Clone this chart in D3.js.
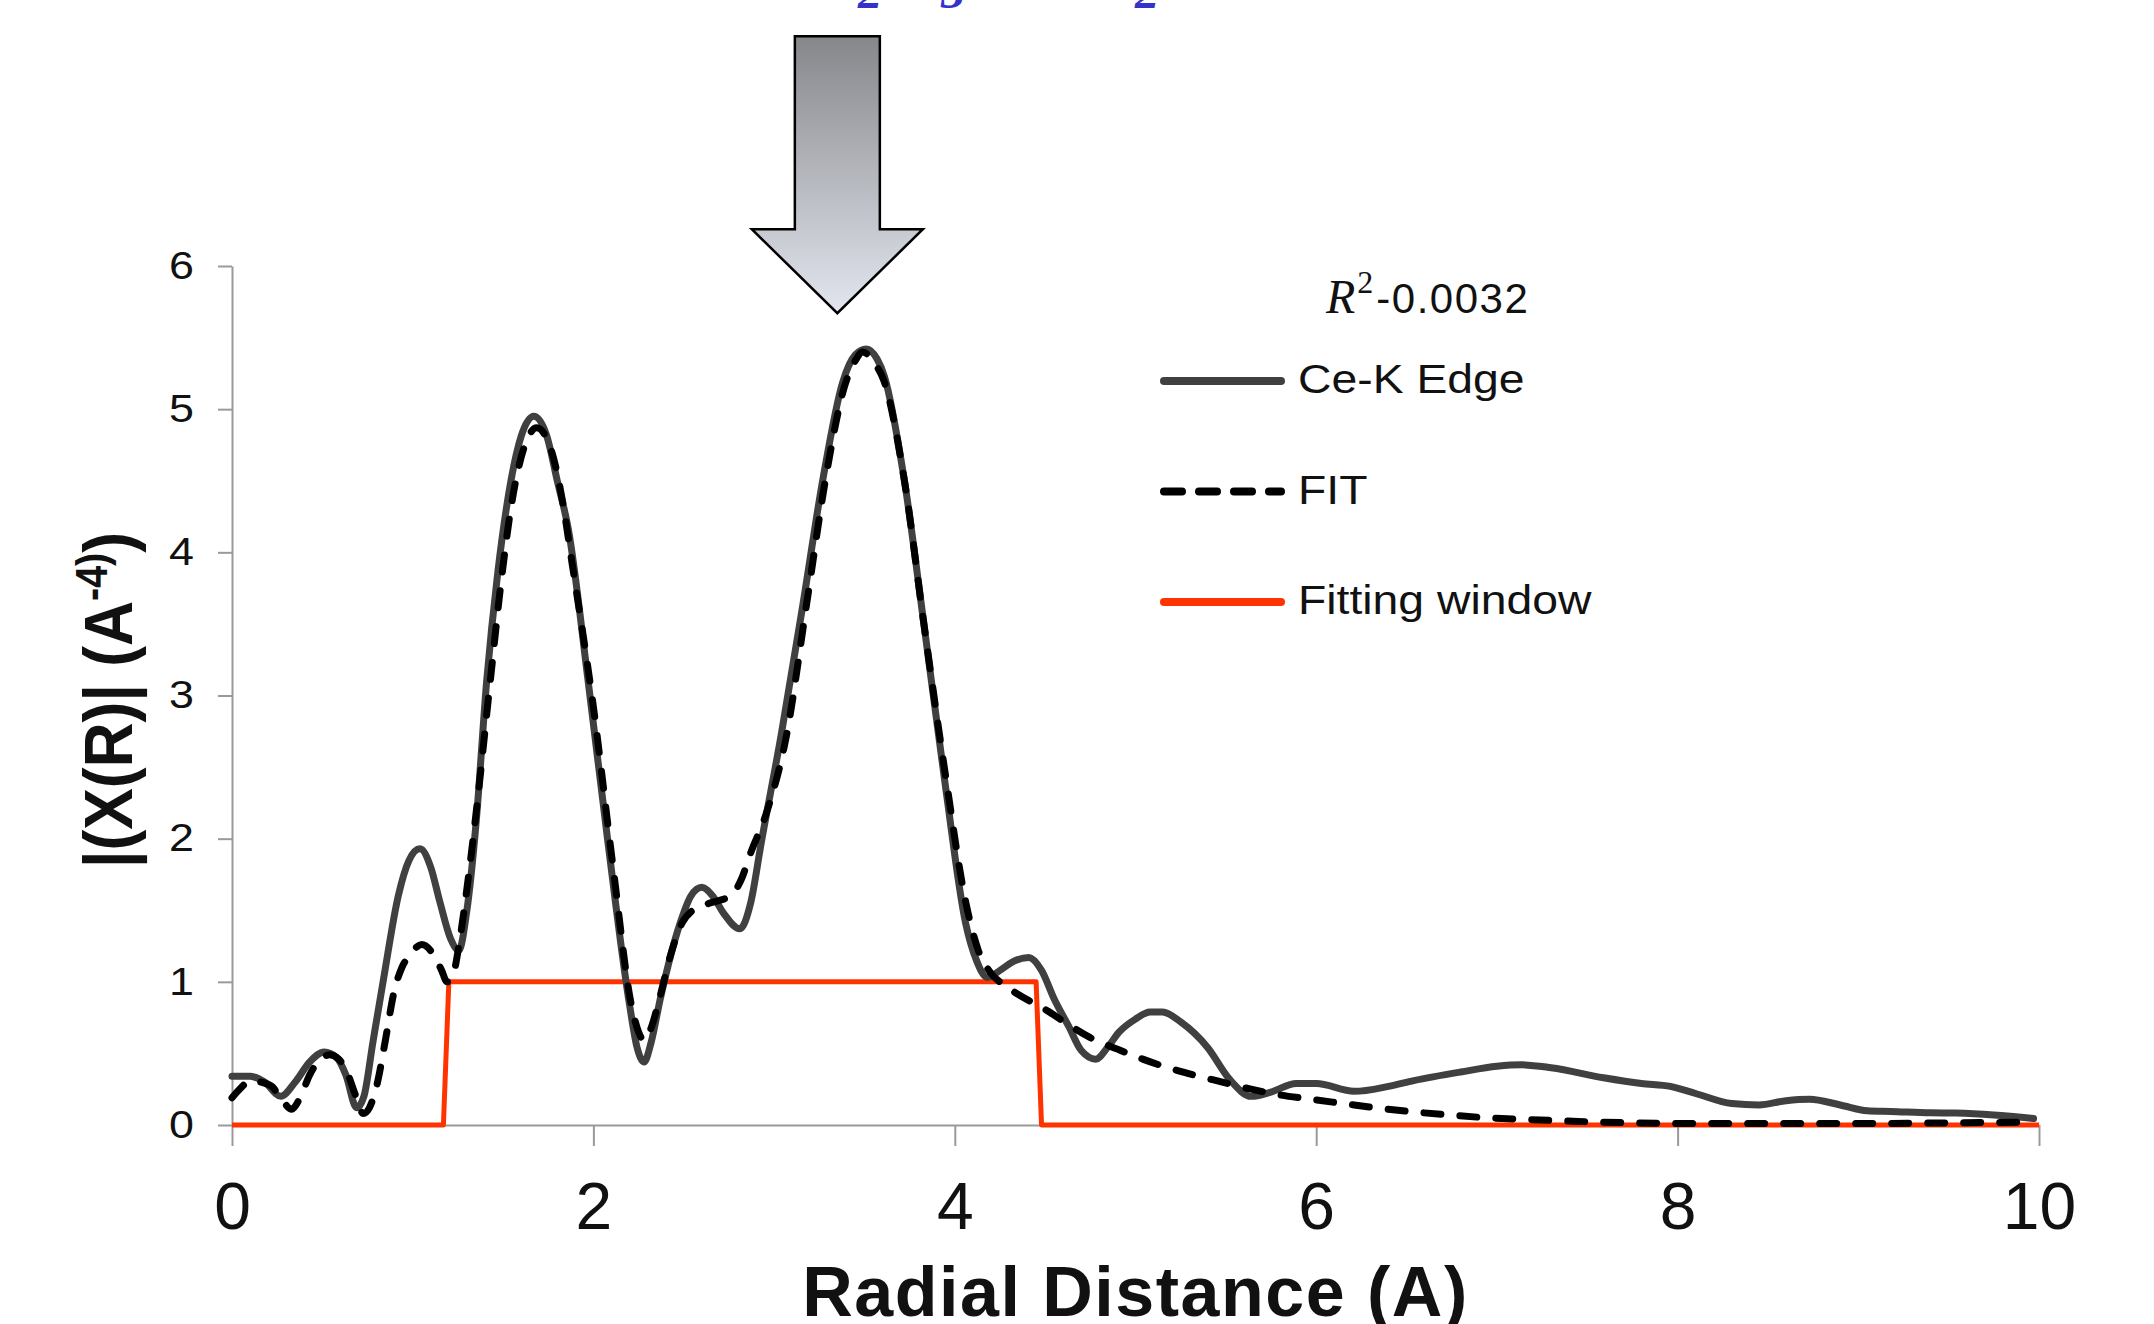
<!DOCTYPE html>
<html>
<head>
<meta charset="utf-8">
<script src="https://cdn.jsdelivr.net/npm/d3@7"></script>
<style>
  body { margin: 0; background: #fff; }
  svg { display: block; }
</style>
</head>
<body>
<svg id="chart" width="2154" height="1324"></svg>
<script>
// values: R (A) and |X(R)|
var edgeR = [0.00, 0.10, 0.18, 0.27, 0.35, 0.43, 0.51, 0.58, 0.63, 0.69, 0.73, 0.78, 0.84, 0.92, 0.98,
  1.04, 1.10, 1.15, 1.21, 1.255, 1.30, 1.35, 1.41, 1.47, 1.52, 1.60, 1.67, 1.74, 1.80, 1.86, 1.97,
  2.08, 2.20, 2.24, 2.28, 2.32, 2.37, 2.48, 2.54, 2.60, 2.66, 2.72, 2.81, 2.87, 2.93, 3.04, 3.16,
  3.27, 3.38, 3.45, 3.51, 3.57, 3.61, 3.72, 3.83, 3.95, 4.06, 4.12, 4.18, 4.25, 4.32, 4.41, 4.48,
  4.55, 4.63, 4.70, 4.78, 4.85, 4.91, 5.00, 5.08, 5.15, 5.25, 5.40, 5.52, 5.64, 5.75, 5.89, 6.00,
  6.21, 6.40, 6.54, 6.80, 7.00, 7.14, 7.30, 7.59, 7.80, 7.96, 8.10, 8.30, 8.45, 8.60, 8.73, 8.90,
  9.05, 9.18, 9.40, 9.54, 9.75, 9.97];
var edgeChi = [0.34, 0.34, 0.30, 0.20, 0.30, 0.44, 0.51, 0.47, 0.35, 0.12, 0.20, 0.58, 1.03, 1.60, 1.85,
  1.93, 1.80, 1.56, 1.30, 1.22, 1.50, 2.10, 3.11, 3.85, 4.32, 4.81, 4.95, 4.82, 4.50, 4.17, 3.11,
  1.98, 0.84, 0.55, 0.44, 0.58, 0.88, 1.41, 1.60, 1.66, 1.60, 1.48, 1.37, 1.55, 1.98, 2.73, 3.64,
  4.51, 5.19, 5.38, 5.42, 5.35, 5.23, 4.51, 3.49, 2.35, 1.41, 1.15, 1.03, 1.08, 1.14, 1.17, 1.08,
  0.88, 0.69, 0.52, 0.46, 0.55, 0.65, 0.74, 0.79, 0.79, 0.72, 0.54, 0.32, 0.20, 0.23, 0.29, 0.29,
  0.235, 0.27, 0.31, 0.37, 0.41, 0.42, 0.40, 0.33, 0.29, 0.27, 0.22, 0.15, 0.14, 0.17, 0.18, 0.14,
  0.10, 0.095, 0.085, 0.083, 0.07, 0.045];

var fitR = [0.00, 0.05, 0.10, 0.16, 0.22, 0.28, 0.33, 0.38, 0.43, 0.49, 0.54, 0.59, 0.63, 0.68, 0.727,
  0.76, 0.80, 0.85, 0.895, 0.94, 0.98, 1.05, 1.12, 1.16, 1.19, 1.23, 1.26, 1.30, 1.35, 1.43, 1.49,
  1.545, 1.63, 1.686, 1.77, 1.83, 1.88, 2.00, 2.11, 2.21, 2.25, 2.28, 2.32, 2.365, 2.43, 2.49, 2.55,
  2.62, 2.70, 2.76, 2.82, 2.87, 2.955, 3.07, 3.18, 3.29, 3.39, 3.45, 3.49, 3.55, 3.61, 3.72, 3.83,
  3.95, 4.06, 4.13, 4.20, 4.27, 4.34, 4.51, 4.63, 4.75, 4.90, 5.04, 5.18, 5.32, 5.48, 5.64, 5.80,
  5.97, 6.15, 6.33, 6.55, 6.74, 6.95, 7.14, 7.45, 7.75, 8.10, 8.57, 9.00, 9.50, 9.97];
var fitChi = [0.19, 0.26, 0.31, 0.30, 0.27, 0.17, 0.11, 0.20, 0.35, 0.46, 0.49, 0.46, 0.39, 0.22, 0.08,
  0.12, 0.27, 0.60, 0.92, 1.10, 1.18, 1.26, 1.18, 1.08, 1.00, 1.08, 1.29, 1.65, 2.17, 3.11, 3.80,
  4.32, 4.78, 4.87, 4.70, 4.35, 3.94, 2.92, 1.79, 0.84, 0.65, 0.59, 0.68, 0.88, 1.20, 1.41, 1.50,
  1.54, 1.57, 1.60, 1.72, 1.90, 2.17, 2.73, 3.64, 4.55, 5.16, 5.34, 5.40, 5.33, 5.19, 4.51, 3.49,
  2.43, 1.56, 1.22, 1.06, 0.98, 0.92, 0.80, 0.70, 0.61, 0.53, 0.46, 0.40, 0.35, 0.30, 0.25, 0.21,
  0.18, 0.15, 0.12, 0.09, 0.07, 0.05, 0.04, 0.025, 0.015, 0.01, 0.01, 0.01, 0.015, 0.02];

var windowR = [0, 1.17, 1.20, 4.45, 4.48, 10];
var windowChi = [0, 0, 1, 1, 0, 0];

var xTicks = [0, 2, 4, 6, 8, 10];
var yTicks = [0, 1, 2, 3, 4, 5, 6];
var seriesNames = ["Ce-K Edge", "FIT", "Fitting window"];
var rSquared = "-0.0032";
var arrowTip = [3.35, 5.67];

var svg = d3.select("#chart");
var width = +svg.attr("width"), height = +svg.attr("height");

svg.append("rect").attr("width", width).attr("height", height).attr("fill", "#fff");

var x = d3.scaleLinear().domain([0, 10]).range([232, 2039]);
var y = d3.scaleLinear().domain([0, 6]).range([1125, 266]);

var sans = "'Liberation Sans', Arial, sans-serif";
var serif = "'Liberation Serif', 'Times New Roman', serif";

// cut-off blue heading at the very top
var head = svg.append("text")
  .attr("y", -14)
  .attr("font-family", serif)
  .attr("font-weight", "bold")
  .attr("font-style", "italic")
  .attr("font-size", 62)
  .attr("fill", "#3333cc");
head.append("tspan").attr("x", 789).text("Ce");
head.append("tspan").attr("x", 858).attr("y", 8).attr("font-size", 48).text("2");
head.append("tspan").attr("x", 882).attr("y", -14).text("O");
head.append("tspan").attr("x", 941).attr("y", 8).attr("font-size", 48).text("3");
head.append("tspan").attr("x", 985).attr("y", -14).text("– CeO");
head.append("tspan").attr("x", 1135).attr("y", 8).attr("font-size", 48).text("2");

// gradient arrow pointing at the main peak
var grad = svg.append("defs").append("linearGradient")
  .attr("id", "arrowFill").attr("x1", 0).attr("y1", 0).attr("x2", 0).attr("y2", 1);
grad.append("stop").attr("offset", "0%").attr("stop-color", "#86878b");
grad.append("stop").attr("offset", "100%").attr("stop-color", "#e3e6ef");

var tx = x(arrowTip[0]), ty = y(arrowTip[1]);
var arrow = d3.path();
arrow.moveTo(tx - 42.5, ty - 277);
arrow.lineTo(tx + 42.5, ty - 277);
arrow.lineTo(tx + 42.5, ty - 84);
arrow.lineTo(tx + 85.5, ty - 84);
arrow.lineTo(tx, ty);
arrow.lineTo(tx - 85.5, ty - 84);
arrow.lineTo(tx - 42.5, ty - 84);
arrow.closePath();
svg.append("path")
  .attr("d", arrow.toString())
  .attr("fill", "url(#arrowFill)")
  .attr("stroke", "#000")
  .attr("stroke-width", 2.5);

// axes
var yAxis = svg.append("g")
  .attr("transform", "translate(" + x(0) + ",0)")
  .call(d3.axisLeft(y).tickValues(yTicks).tickFormat(d3.format("d"))
    .tickSize(14).tickPadding(24).tickSizeOuter(0));
var xAxis = svg.append("g")
  .attr("transform", "translate(0," + y(0) + ")")
  .call(d3.axisBottom(x).tickValues(xTicks).tickFormat(d3.format("d"))
    .tickSize(21).tickPadding(36).tickSizeOuter(0));

[xAxis, yAxis].forEach(function (g) {
  g.select(".domain").attr("stroke", "#9a9a9a").attr("stroke-width", 2);
  g.selectAll(".tick line").attr("stroke", "#9a9a9a").attr("stroke-width", 2);
  g.selectAll(".tick text").attr("font-family", sans).attr("fill", "#111");
});
xAxis.selectAll(".tick text").attr("font-size", 66);
yAxis.selectAll(".tick text").attr("font-size", 38).each(function () {
  var t = d3.select(this), px = +t.attr("x");
  t.attr("x", 0).attr("transform", "translate(" + px + ",0) scale(1.18,1)");
});

// axis titles
svg.append("text")
  .attr("x", (x(0) + x(10)) / 2)
  .attr("y", 1316)
  .attr("text-anchor", "middle")
  .attr("font-family", sans)
  .attr("font-weight", "bold")
  .attr("font-size", 70)
  .attr("letter-spacing", 1.5)
  .attr("fill", "#111")
  .text("Radial Distance (A)");

var yTitle = svg.append("text")
  .attr("transform", "translate(114,700) rotate(-90) scale(1.04,1.15)")
  .attr("y", 16)
  .attr("text-anchor", "middle")
  .attr("font-family", sans)
  .attr("font-weight", "bold")
  .attr("font-size", 60)
  .attr("fill", "#111");
yTitle.append("tspan").text("|(X(R)| (A");
yTitle.append("tspan").attr("dy", -22).attr("font-size", 38).text("-4)");
yTitle.append("tspan").attr("dy", 22).text(")");

// series
var line = d3.line()
  .x(function (d) { return x(d[0]); })
  .y(function (d) { return y(d[1]); });
var smooth = d3.line()
  .x(function (d) { return x(d[0]); })
  .y(function (d) { return y(d[1]); })
  .curve(d3.curveMonotoneX);

svg.append("path")
  .datum(d3.zip(windowR, windowChi))
  .attr("d", line)
  .attr("fill", "none")
  .attr("stroke", "#ff3300")
  .attr("stroke-width", 5)
  .attr("stroke-linejoin", "round");

svg.append("path")
  .datum(d3.zip(edgeR, edgeChi))
  .attr("d", smooth)
  .attr("fill", "none")
  .attr("stroke", "#404040")
  .attr("stroke-width", 7)
  .attr("stroke-linejoin", "round")
  .attr("stroke-linecap", "round");

svg.append("path")
  .datum(d3.zip(fitR, fitChi))
  .attr("d", smooth)
  .attr("fill", "none")
  .attr("stroke", "#000")
  .attr("stroke-width", 7)
  .attr("stroke-dasharray", "17,19")
  .attr("stroke-linecap", "round");

// legend
var rLabel = svg.append("text")
  .attr("x", 1326).attr("y", 313)
  .attr("fill", "#111");
rLabel.append("tspan").attr("font-family", serif).attr("font-style", "italic").attr("font-size", 48).text("R");
rLabel.append("tspan").attr("font-family", serif).attr("font-size", 32).attr("dy", -20).attr("dx", 2).text("2");
rLabel.append("tspan").attr("font-family", sans).attr("font-size", 42).attr("dy", 20).attr("dx", 3)
  .attr("letter-spacing", 1.5).text(rSquared);

var legendStyles = [
  { stroke: "#404040", dash: null },
  { stroke: "#000", dash: "18,17" },
  { stroke: "#ff3300", dash: null }
];
var legend = svg.append("g").selectAll("g")
  .data(seriesNames)
  .enter().append("g")
  .attr("transform", function (d, i) { return "translate(0," + (381 + i * 110.5) + ")"; });
legend.append("line")
  .attr("x1", 1164).attr("x2", 1281)
  .attr("stroke", function (d, i) { return legendStyles[i].stroke; })
  .attr("stroke-width", 8)
  .attr("stroke-linecap", "round")
  .attr("stroke-dasharray", function (d, i) { return legendStyles[i].dash; });
legend.append("text")
  .attr("transform", "translate(1298,12) scale(1.13,1)")
  .attr("font-family", sans)
  .attr("font-size", 41)
  .attr("fill", "#111")
  .text(function (d) { return d; });
</script>
</body>
</html>
